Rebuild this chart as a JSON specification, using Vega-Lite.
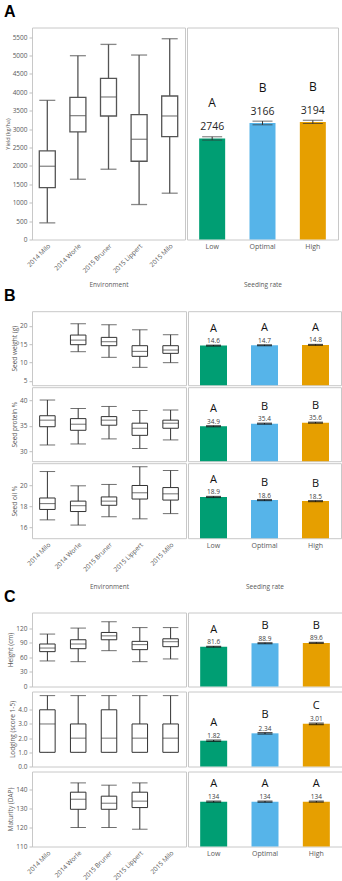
{
 "$schema": "https://vega.github.io/schema/vega-lite/v6.json",
 "padding": {"left": 3, "top": 3.5, "right": 2, "bottom": 2},
 "spacing": -2,
 "datasets": {
  "y_box": [
   {"env":"2014 Milo","min":452,"q1":1411,"median":1990,"q3":2406,"max":3781},
   {"env":"2014 Worle","min":1637,"q1":2922,"median":3365,"q3":3863,"max":4994},
   {"env":"2015 Bruner","min":1909,"q1":3356,"median":3872,"q3":4378,"max":5301},
   {"env":"2015 Lippert","min":950,"q1":2126,"median":2723,"q3":3392,"max":5012},
   {"env":"2015 Milo","min":1258,"q1":2795,"median":3356,"q3":3899,"max":5455}
  ],
  "y_bar": [
   {"rate":"Low","mean":2746,"lo":2701,"hi":2791,"letter":"A"},
   {"rate":"Optimal","mean":3166,"lo":3116,"hi":3216,"letter":"B"},
   {"rate":"High","mean":3194,"lo":3149,"hi":3239,"letter":"B"}
  ],
  "sw_box": [
   {"env":"2014 Worle","min":12.95,"q1":14.85,"median":16.1,"q3":17.47,"max":20.54},
   {"env":"2015 Bruner","min":11.42,"q1":14.58,"median":15.66,"q3":16.84,"max":20.27},
   {"env":"2015 Lippert","min":8.7,"q1":11.69,"median":13.04,"q3":14.58,"max":18.9},
   {"env":"2015 Milo","min":9.97,"q1":12.5,"median":13.4,"q3":14.58,"max":17.56}
  ],
  "sw_bar": [
   {"rate":"Low","mean":14.6,"lo":14.48,"hi":14.72,"letter":"A"},
   {"rate":"Optimal","mean":14.7,"lo":14.58,"hi":14.82,"letter":"A"},
   {"rate":"High","mean":14.8,"lo":14.68,"hi":14.92,"letter":"A"}
  ],
  "sp_box": [
   {"env":"2014 Milo","min":31.2,"q1":34.8,"median":36.1,"q3":36.97,"max":40.07},
   {"env":"2014 Worle","min":31.4,"q1":34.1,"median":35.3,"q3":36.4,"max":38.4},
   {"env":"2015 Bruner","min":32.4,"q1":35.1,"median":36.1,"q3":36.8,"max":38.8},
   {"env":"2015 Lippert","min":30.5,"q1":33.1,"median":34.5,"q3":35.5,"max":38.0},
   {"env":"2015 Milo","min":32.2,"q1":34.5,"median":35.5,"q3":36.1,"max":38.1}
  ],
  "sp_bar": [
   {"rate":"Low","mean":34.9,"lo":34.8,"hi":35.0,"letter":"A"},
   {"rate":"Optimal","mean":35.4,"lo":35.3,"hi":35.5,"letter":"B"},
   {"rate":"High","mean":35.6,"lo":35.5,"hi":35.7,"letter":"B"}
  ],
  "so_box": [
   {"env":"2014 Milo","min":16.7,"q1":17.7,"median":18.26,"q3":18.8,"max":21.34},
   {"env":"2014 Worle","min":16.2,"q1":17.5,"median":18.06,"q3":18.5,"max":19.97},
   {"env":"2015 Bruner","min":17.0,"q1":18.1,"median":18.5,"q3":18.9,"max":20.1},
   {"env":"2015 Lippert","min":16.8,"q1":18.7,"median":19.3,"q3":20.0,"max":21.8},
   {"env":"2015 Milo","min":17.3,"q1":18.6,"median":19.2,"q3":19.8,"max":21.44}
  ],
  "so_bar": [
   {"rate":"Low","mean":18.9,"lo":18.85,"hi":18.95,"letter":"A"},
   {"rate":"Optimal","mean":18.6,"lo":18.55,"hi":18.65,"letter":"B"},
   {"rate":"High","mean":18.5,"lo":18.45,"hi":18.55,"letter":"B"}
  ],
  "h_box": [
   {"env":"2014 Milo","min":52.5,"q1":71.6,"median":79,"q3":87.3,"max":107.7},
   {"env":"2014 Worle","min":51,"q1":77.7,"median":87.3,"q3":96,"max":120},
   {"env":"2015 Bruner","min":73.6,"q1":96,"median":104,"q3":111,"max":133},
   {"env":"2015 Lippert","min":51,"q1":75.7,"median":86,"q3":92.7,"max":121},
   {"env":"2015 Milo","min":56.6,"q1":81.8,"median":92,"q3":98,"max":121}
  ],
  "h_bar": [
   {"rate":"Low","mean":81.6,"lo":80.6,"hi":82.6,"letter":"A"},
   {"rate":"Optimal","mean":88.9,"lo":87.9,"hi":89.9,"letter":"B"},
   {"rate":"High","mean":89.6,"lo":88.6,"hi":90.6,"letter":"B"}
  ],
  "l_box": [
   {"env":"2014 Milo","min":1,"q1":1,"median":3,"q3":4,"max":5},
   {"env":"2014 Worle","min":1,"q1":1,"median":2,"q3":3,"max":5},
   {"env":"2015 Bruner","min":1,"q1":1,"median":2,"q3":4,"max":5},
   {"env":"2015 Lippert","min":1,"q1":1,"median":2,"q3":3,"max":5},
   {"env":"2015 Milo","min":1,"q1":1,"median":2,"q3":3,"max":5}
  ],
  "l_bar": [
   {"rate":"Low","mean":1.82,"lo":1.77,"hi":1.87,"letter":"A"},
   {"rate":"Optimal","mean":2.34,"lo":2.29,"hi":2.39,"letter":"B"},
   {"rate":"High","mean":3.01,"lo":2.96,"hi":3.06,"letter":"C"}
  ],
  "m_box": [
   {"env":"2014 Worle","min":120,"q1":129.6,"median":134.9,"q3":138.6,"max":143.5},
   {"env":"2015 Bruner","min":120,"q1":129.6,"median":132.8,"q3":136.5,"max":142.3},
   {"env":"2015 Lippert","min":119.1,"q1":130.5,"median":133.9,"q3":138.6,"max":143.5}
  ],
  "m_bar": [
   {"rate":"Low","mean":133.6,"lo":133.3,"hi":133.9,"letter":"A"},
   {"rate":"Optimal","mean":133.6,"lo":133.3,"hi":133.9,"letter":"A"},
   {"rate":"High","mean":133.6,"lo":133.3,"hi":133.9,"letter":"A"}
  ]
 },
 "vconcat": [
  {"spacing": -1.3, "vconcat": [
   {"spacing": 0, "hconcat": [
    {"title": "A", "width": 153, "height": 212, "data": {"name": "y_box"},
     "encoding": {"x": {"field": "env", "type": "nominal", "scale": {"domain": ["2014 Milo","2014 Worle","2015 Bruner","2015 Lippert","2015 Milo"], "paddingInner": 0, "paddingOuter": 0}, "axis": {"labelAngle": -45, "labelPadding": 3, "labelOverlap": false, "title": "Environment", "minExtent": 32, "maxExtent": 32, "titlePadding": 10}}},
     "layer": [
      {"mark": {"type": "rule", "color": "#555", "strokeWidth": 1.3}, "encoding": {"y": {"field": "min", "type": "quantitative", "scale": {"domain": [0, 5760], "nice": false, "zero": false, "clamp": true}, "axis": {"values": [0,500,1000,1500,2000,2500,3000,3500,4000,4500,5000,5500], "format": "d", "labelOverlap": false, "titleFontSize": 5.5}, "title": "Yield (kg/ha)"}, "y2": {"field": "max"}}},
      {"mark": {"type": "bar", "size": 16, "fill": "white", "stroke": "#555", "strokeWidth": 1.3}, "encoding": {"y": {"field": "q1", "type": "quantitative", "axis": {"values": [0,500,1000,1500,2000,2500,3000,3500,4000,4500,5000,5500], "format": "d", "labelOverlap": false, "titleFontSize": 5.5}, "title": "Yield (kg/ha)"}, "y2": {"field": "q3"}}},
      {"mark": {"type": "tick", "size": 16, "thickness": 1.3, "color": "#555"}, "encoding": {"y": {"field": "median", "type": "quantitative", "axis": {"values": [0,500,1000,1500,2000,2500,3000,3500,4000,4500,5000,5500], "format": "d", "labelOverlap": false, "titleFontSize": 5.5}, "title": "Yield (kg/ha)"}}},
      {"mark": {"type": "tick", "size": 16, "thickness": 1.3, "color": "#555"}, "encoding": {"y": {"field": "min", "type": "quantitative", "axis": {"values": [0,500,1000,1500,2000,2500,3000,3500,4000,4500,5000,5500], "format": "d", "labelOverlap": false, "titleFontSize": 5.5}, "title": "Yield (kg/ha)"}}},
      {"mark": {"type": "tick", "size": 16, "thickness": 1.3, "color": "#555"}, "encoding": {"y": {"field": "max", "type": "quantitative", "axis": {"values": [0,500,1000,1500,2000,2500,3000,3500,4000,4500,5000,5500], "format": "d", "labelOverlap": false, "titleFontSize": 5.5}, "title": "Yield (kg/ha)"}}}
     ]},
    {"width": 151, "height": 212, "data": {"name": "y_bar"},
     "encoding": {"x": {"field": "rate", "type": "nominal", "scale": {"domain": ["Low","Optimal","High"], "paddingInner": 0, "paddingOuter": 0}, "axis": {"labelAngle": 0, "labelFontSize": 7, "labelPadding": 3, "labelOverlap": false, "title": "Seeding rate", "minExtent": 32, "maxExtent": 32, "titlePadding": 10}}},
     "layer": [
      {"mark": {"type": "bar", "size": 26}, "encoding": {"y": {"field": "mean", "type": "quantitative", "scale": {"domain": [0, 5760], "nice": false, "zero": false, "clamp": true}, "axis": null}, "color": {"field": "rate", "type": "nominal", "scale": {"domain": ["Low","Optimal","High"], "range": ["#009E73","#56B4E9","#E69F00"]}, "legend": null}}},
      {"mark": {"type": "rule", "color": "#333", "strokeWidth": 1}, "encoding": {"y": {"field": "lo", "type": "quantitative", "axis": null}, "y2": {"field": "hi"}}},
      {"mark": {"type": "tick", "size": 20, "thickness": 1, "color": "#333"}, "encoding": {"y": {"field": "lo", "type": "quantitative", "axis": null}}},
      {"mark": {"type": "tick", "size": 20, "thickness": 1, "color": "#333"}, "encoding": {"y": {"field": "hi", "type": "quantitative", "axis": null}}},
      {"mark": {"type": "text", "dy": -11, "fontSize": 10.5, "color": "#262626", "baseline": "middle"}, "encoding": {"y": {"field": "mean", "type": "quantitative", "axis": null}, "text": {"field": "mean", "type": "quantitative", "format": ".0f"}}},
      {"mark": {"type": "text", "dy": -35, "fontSize": 12, "color": "#111", "baseline": "middle"}, "encoding": {"y": {"field": "mean", "type": "quantitative", "axis": null}, "text": {"field": "letter"}}}
     ]}
   ]},
   {"spacing": 0, "vconcat": [
    {"spacing": 0, "hconcat": [
     {"title": "B", "width": 154, "height": 74, "data": {"name": "sw_box"},
      "encoding": {"x": {"field": "env", "type": "nominal", "scale": {"domain": ["2014 Milo","2014 Worle","2015 Bruner","2015 Lippert","2015 Milo"], "paddingInner": 0, "paddingOuter": 0}, "axis": null}},
      "layer": [
       {"mark": {"type": "rule", "color": "#333", "strokeWidth": 1}, "encoding": {"y": {"field": "min", "type": "quantitative", "scale": {"domain": [3.85, 23.95], "nice": false, "zero": false, "clamp": true}, "axis": {"values": [5,10,15,20], "labelOverlap": false}, "title": "Seed weight (g)"}, "y2": {"field": "max"}}},
       {"mark": {"type": "bar", "size": 15.5, "fill": "white", "stroke": "#333", "strokeWidth": 1}, "encoding": {"y": {"field": "q1", "type": "quantitative", "axis": {"values": [5,10,15,20], "labelOverlap": false}, "title": "Seed weight (g)"}, "y2": {"field": "q3"}}},
       {"mark": {"type": "tick", "size": 15.5, "thickness": 1, "color": "#333"}, "encoding": {"y": {"field": "median", "type": "quantitative", "axis": {"values": [5,10,15,20], "labelOverlap": false}, "title": "Seed weight (g)"}}},
       {"mark": {"type": "tick", "size": 15.5, "thickness": 1, "color": "#333"}, "encoding": {"y": {"field": "min", "type": "quantitative", "axis": {"values": [5,10,15,20], "labelOverlap": false}, "title": "Seed weight (g)"}}},
       {"mark": {"type": "tick", "size": 15.5, "thickness": 1, "color": "#333"}, "encoding": {"y": {"field": "max", "type": "quantitative", "axis": {"values": [5,10,15,20], "labelOverlap": false}, "title": "Seed weight (g)"}}}
      ]},
     {"width": 153, "height": 74, "data": {"name": "sw_bar"},
      "encoding": {"x": {"field": "rate", "type": "nominal", "scale": {"domain": ["Low","Optimal","High"], "paddingInner": 0, "paddingOuter": 0}, "axis": null}},
      "layer": [
       {"mark": {"type": "bar", "size": 27}, "encoding": {"y": {"field": "mean", "type": "quantitative", "scale": {"domain": [3.85, 23.95], "nice": false, "zero": false, "clamp": true}, "axis": null}, "color": {"field": "rate", "type": "nominal", "scale": {"domain": ["Low","Optimal","High"], "range": ["#009E73","#56B4E9","#E69F00"]}, "legend": null}}},
       {"mark": {"type": "rule", "color": "#111", "strokeWidth": 1}, "encoding": {"y": {"field": "lo", "type": "quantitative", "axis": null}, "y2": {"field": "hi"}}},
       {"mark": {"type": "tick", "size": 15, "thickness": 1.2, "color": "#111"}, "encoding": {"y": {"field": "lo", "type": "quantitative", "axis": null}}},
       {"mark": {"type": "tick", "size": 15, "thickness": 1.2, "color": "#111"}, "encoding": {"y": {"field": "hi", "type": "quantitative", "axis": null}}},
       {"mark": {"type": "text", "dy": -4.5, "fontSize": 6.5, "color": "#404040", "baseline": "middle"}, "encoding": {"y": {"field": "mean", "type": "quantitative", "axis": null}, "text": {"field": "mean", "type": "quantitative", "format": ".1f"}}},
       {"mark": {"type": "text", "dy": -17, "fontSize": 11, "color": "#111", "baseline": "middle"}, "encoding": {"y": {"field": "mean", "type": "quantitative", "axis": null}, "text": {"field": "letter"}}}
      ]}
    ]},
    {"spacing": 0, "hconcat": [
     {"width": 154, "height": 74, "data": {"name": "sp_box"},
      "encoding": {"x": {"field": "env", "type": "nominal", "scale": {"domain": ["2014 Milo","2014 Worle","2015 Bruner","2015 Lippert","2015 Milo"], "paddingInner": 0, "paddingOuter": 0}, "axis": null}},
      "layer": [
       {"mark": {"type": "rule", "color": "#333", "strokeWidth": 1}, "encoding": {"y": {"field": "min", "type": "quantitative", "scale": {"domain": [28, 42.6], "nice": false, "zero": false, "clamp": true}, "axis": {"values": [30,35,40], "labelOverlap": false}, "title": "Seed protein %"}, "y2": {"field": "max"}}},
       {"mark": {"type": "bar", "size": 15.5, "fill": "white", "stroke": "#333", "strokeWidth": 1}, "encoding": {"y": {"field": "q1", "type": "quantitative", "axis": {"values": [30,35,40], "labelOverlap": false}, "title": "Seed protein %"}, "y2": {"field": "q3"}}},
       {"mark": {"type": "tick", "size": 15.5, "thickness": 1, "color": "#333"}, "encoding": {"y": {"field": "median", "type": "quantitative", "axis": {"values": [30,35,40], "labelOverlap": false}, "title": "Seed protein %"}}},
       {"mark": {"type": "tick", "size": 15.5, "thickness": 1, "color": "#333"}, "encoding": {"y": {"field": "min", "type": "quantitative", "axis": {"values": [30,35,40], "labelOverlap": false}, "title": "Seed protein %"}}},
       {"mark": {"type": "tick", "size": 15.5, "thickness": 1, "color": "#333"}, "encoding": {"y": {"field": "max", "type": "quantitative", "axis": {"values": [30,35,40], "labelOverlap": false}, "title": "Seed protein %"}}}
      ]},
     {"width": 153, "height": 74, "data": {"name": "sp_bar"},
      "encoding": {"x": {"field": "rate", "type": "nominal", "scale": {"domain": ["Low","Optimal","High"], "paddingInner": 0, "paddingOuter": 0}, "axis": null}},
      "layer": [
       {"mark": {"type": "bar", "size": 27}, "encoding": {"y": {"field": "mean", "type": "quantitative", "scale": {"domain": [28, 42.6], "nice": false, "zero": false, "clamp": true}, "axis": null}, "color": {"field": "rate", "type": "nominal", "scale": {"domain": ["Low","Optimal","High"], "range": ["#009E73","#56B4E9","#E69F00"]}, "legend": null}}},
       {"mark": {"type": "rule", "color": "#111", "strokeWidth": 1}, "encoding": {"y": {"field": "lo", "type": "quantitative", "axis": null}, "y2": {"field": "hi"}}},
       {"mark": {"type": "tick", "size": 15, "thickness": 1.2, "color": "#111"}, "encoding": {"y": {"field": "lo", "type": "quantitative", "axis": null}}},
       {"mark": {"type": "tick", "size": 15, "thickness": 1.2, "color": "#111"}, "encoding": {"y": {"field": "hi", "type": "quantitative", "axis": null}}},
       {"mark": {"type": "text", "dy": -4.5, "fontSize": 6.5, "color": "#404040", "baseline": "middle"}, "encoding": {"y": {"field": "mean", "type": "quantitative", "axis": null}, "text": {"field": "mean", "type": "quantitative", "format": ".1f"}}},
       {"mark": {"type": "text", "dy": -17, "fontSize": 11, "color": "#111", "baseline": "middle"}, "encoding": {"y": {"field": "mean", "type": "quantitative", "axis": null}, "text": {"field": "letter"}}}
      ]}
    ]},
    {"spacing": 0, "hconcat": [
     {"width": 154, "height": 75, "data": {"name": "so_box"},
      "encoding": {"x": {"field": "env", "type": "nominal", "scale": {"domain": ["2014 Milo","2014 Worle","2015 Bruner","2015 Lippert","2015 Milo"], "paddingInner": 0, "paddingOuter": 0}, "axis": {"labelAngle": -45, "labelPadding": 3, "labelOverlap": false, "title": "Environment", "minExtent": 32, "maxExtent": 32, "titlePadding": 13}}},
      "layer": [
       {"mark": {"type": "rule", "color": "#333", "strokeWidth": 1}, "encoding": {"y": {"field": "min", "type": "quantitative", "scale": {"domain": [14.94, 22.14], "nice": false, "zero": false, "clamp": true}, "axis": {"values": [16,18,20], "labelOverlap": false}, "title": "Seed oil %"}, "y2": {"field": "max"}}},
       {"mark": {"type": "bar", "size": 15.5, "fill": "white", "stroke": "#333", "strokeWidth": 1}, "encoding": {"y": {"field": "q1", "type": "quantitative", "axis": {"values": [16,18,20], "labelOverlap": false}, "title": "Seed oil %"}, "y2": {"field": "q3"}}},
       {"mark": {"type": "tick", "size": 15.5, "thickness": 1, "color": "#333"}, "encoding": {"y": {"field": "median", "type": "quantitative", "axis": {"values": [16,18,20], "labelOverlap": false}, "title": "Seed oil %"}}},
       {"mark": {"type": "tick", "size": 15.5, "thickness": 1, "color": "#333"}, "encoding": {"y": {"field": "min", "type": "quantitative", "axis": {"values": [16,18,20], "labelOverlap": false}, "title": "Seed oil %"}}},
       {"mark": {"type": "tick", "size": 15.5, "thickness": 1, "color": "#333"}, "encoding": {"y": {"field": "max", "type": "quantitative", "axis": {"values": [16,18,20], "labelOverlap": false}, "title": "Seed oil %"}}}
      ]},
     {"width": 153, "height": 75, "data": {"name": "so_bar"},
      "encoding": {"x": {"field": "rate", "type": "nominal", "scale": {"domain": ["Low","Optimal","High"], "paddingInner": 0, "paddingOuter": 0}, "axis": {"labelAngle": 0, "labelFontSize": 7, "labelPadding": 3, "labelOverlap": false, "title": "Seeding rate", "minExtent": 32, "maxExtent": 32, "titlePadding": 13}}},
      "layer": [
       {"mark": {"type": "bar", "size": 27}, "encoding": {"y": {"field": "mean", "type": "quantitative", "scale": {"domain": [14.94, 22.14], "nice": false, "zero": false, "clamp": true}, "axis": null}, "color": {"field": "rate", "type": "nominal", "scale": {"domain": ["Low","Optimal","High"], "range": ["#009E73","#56B4E9","#E69F00"]}, "legend": null}}},
       {"mark": {"type": "rule", "color": "#111", "strokeWidth": 1}, "encoding": {"y": {"field": "lo", "type": "quantitative", "axis": null}, "y2": {"field": "hi"}}},
       {"mark": {"type": "tick", "size": 15, "thickness": 1.2, "color": "#111"}, "encoding": {"y": {"field": "lo", "type": "quantitative", "axis": null}}},
       {"mark": {"type": "tick", "size": 15, "thickness": 1.2, "color": "#111"}, "encoding": {"y": {"field": "hi", "type": "quantitative", "axis": null}}},
       {"mark": {"type": "text", "dy": -4.5, "fontSize": 6.5, "color": "#404040", "baseline": "middle"}, "encoding": {"y": {"field": "mean", "type": "quantitative", "axis": null}, "text": {"field": "mean", "type": "quantitative", "format": ".1f"}}},
       {"mark": {"type": "text", "dy": -17, "fontSize": 11, "color": "#111", "baseline": "middle"}, "encoding": {"y": {"field": "mean", "type": "quantitative", "axis": null}, "text": {"field": "letter"}}}
      ]}
    ]}
   ]}
  ]},
  {"spacing": 0, "vconcat": [
   {"spacing": 0, "hconcat": [
    {"title": "C", "width": 154, "height": 74, "data": {"name": "h_box"},
     "encoding": {"x": {"field": "env", "type": "nominal", "scale": {"domain": ["2014 Milo","2014 Worle","2015 Bruner","2015 Lippert","2015 Milo"], "paddingInner": 0, "paddingOuter": 0}, "axis": null}},
     "layer": [
      {"mark": {"type": "rule", "color": "#333", "strokeWidth": 1}, "encoding": {"y": {"field": "min", "type": "quantitative", "scale": {"domain": [0, 152], "nice": false, "zero": false, "clamp": true}, "axis": {"values": [0,30,60,90,120], "labelOverlap": false}, "title": "Height (cm)"}, "y2": {"field": "max"}}},
      {"mark": {"type": "bar", "size": 15.5, "fill": "white", "stroke": "#333", "strokeWidth": 1}, "encoding": {"y": {"field": "q1", "type": "quantitative", "axis": {"values": [0,30,60,90,120], "labelOverlap": false}, "title": "Height (cm)"}, "y2": {"field": "q3"}}},
      {"mark": {"type": "tick", "size": 15.5, "thickness": 1, "color": "#333"}, "encoding": {"y": {"field": "median", "type": "quantitative", "axis": {"values": [0,30,60,90,120], "labelOverlap": false}, "title": "Height (cm)"}}},
      {"mark": {"type": "tick", "size": 15.5, "thickness": 1, "color": "#333"}, "encoding": {"y": {"field": "min", "type": "quantitative", "axis": {"values": [0,30,60,90,120], "labelOverlap": false}, "title": "Height (cm)"}}},
      {"mark": {"type": "tick", "size": 15.5, "thickness": 1, "color": "#333"}, "encoding": {"y": {"field": "max", "type": "quantitative", "axis": {"values": [0,30,60,90,120], "labelOverlap": false}, "title": "Height (cm)"}}}
     ]},
    {"width": 154, "height": 74, "data": {"name": "h_bar"},
     "encoding": {"x": {"field": "rate", "type": "nominal", "scale": {"domain": ["Low","Optimal","High"], "paddingInner": 0, "paddingOuter": 0}, "axis": null}},
     "layer": [
      {"mark": {"type": "bar", "size": 27}, "encoding": {"y": {"field": "mean", "type": "quantitative", "scale": {"domain": [0, 152], "nice": false, "zero": false, "clamp": true}, "axis": null}, "color": {"field": "rate", "type": "nominal", "scale": {"domain": ["Low","Optimal","High"], "range": ["#009E73","#56B4E9","#E69F00"]}, "legend": null}}},
      {"mark": {"type": "rule", "color": "#111", "strokeWidth": 1}, "encoding": {"y": {"field": "lo", "type": "quantitative", "axis": null}, "y2": {"field": "hi"}}},
      {"mark": {"type": "tick", "size": 15, "thickness": 1.2, "color": "#111"}, "encoding": {"y": {"field": "lo", "type": "quantitative", "axis": null}}},
      {"mark": {"type": "tick", "size": 15, "thickness": 1.2, "color": "#111"}, "encoding": {"y": {"field": "hi", "type": "quantitative", "axis": null}}},
      {"mark": {"type": "text", "dy": -4.5, "fontSize": 6.5, "color": "#404040", "baseline": "middle"}, "encoding": {"y": {"field": "mean", "type": "quantitative", "axis": null}, "text": {"field": "mean", "type": "quantitative", "format": ".1f"}}},
      {"mark": {"type": "text", "dy": -17, "fontSize": 11, "color": "#111", "baseline": "middle"}, "encoding": {"y": {"field": "mean", "type": "quantitative", "axis": null}, "text": {"field": "letter"}}}
     ]}
   ]},
   {"spacing": 0, "hconcat": [
    {"width": 154, "height": 75, "data": {"name": "l_box"},
     "encoding": {"x": {"field": "env", "type": "nominal", "scale": {"domain": ["2014 Milo","2014 Worle","2015 Bruner","2015 Lippert","2015 Milo"], "paddingInner": 0, "paddingOuter": 0}, "axis": null}},
     "layer": [
      {"mark": {"type": "rule", "color": "#333", "strokeWidth": 1}, "encoding": {"y": {"field": "min", "type": "quantitative", "scale": {"domain": [0, 5.29], "nice": false, "zero": false, "clamp": true}, "axis": {"values": [0,1,2,3,4], "format": ".1f", "labelOverlap": false}, "title": "Lodging (score 1-5)"}, "y2": {"field": "max"}}},
      {"mark": {"type": "bar", "size": 15.5, "fill": "white", "stroke": "#333", "strokeWidth": 1}, "encoding": {"y": {"field": "q1", "type": "quantitative", "axis": {"values": [0,1,2,3,4], "format": ".1f", "labelOverlap": false}, "title": "Lodging (score 1-5)"}, "y2": {"field": "q3"}}},
      {"mark": {"type": "tick", "size": 15.5, "thickness": 1, "color": "#333"}, "encoding": {"y": {"field": "median", "type": "quantitative", "axis": {"values": [0,1,2,3,4], "format": ".1f", "labelOverlap": false}, "title": "Lodging (score 1-5)"}}},
      {"mark": {"type": "tick", "size": 15.5, "thickness": 1, "color": "#333"}, "encoding": {"y": {"field": "max", "type": "quantitative", "axis": {"values": [0,1,2,3,4], "format": ".1f", "labelOverlap": false}, "title": "Lodging (score 1-5)"}}}
     ]},
    {"width": 154, "height": 75, "data": {"name": "l_bar"},
     "encoding": {"x": {"field": "rate", "type": "nominal", "scale": {"domain": ["Low","Optimal","High"], "paddingInner": 0, "paddingOuter": 0}, "axis": null}},
     "layer": [
      {"mark": {"type": "bar", "size": 27}, "encoding": {"y": {"field": "mean", "type": "quantitative", "scale": {"domain": [0, 5.29], "nice": false, "zero": false, "clamp": true}, "axis": null}, "color": {"field": "rate", "type": "nominal", "scale": {"domain": ["Low","Optimal","High"], "range": ["#009E73","#56B4E9","#E69F00"]}, "legend": null}}},
      {"mark": {"type": "rule", "color": "#111", "strokeWidth": 1}, "encoding": {"y": {"field": "lo", "type": "quantitative", "axis": null}, "y2": {"field": "hi"}}},
      {"mark": {"type": "tick", "size": 15, "thickness": 1.2, "color": "#111"}, "encoding": {"y": {"field": "lo", "type": "quantitative", "axis": null}}},
      {"mark": {"type": "tick", "size": 15, "thickness": 1.2, "color": "#111"}, "encoding": {"y": {"field": "hi", "type": "quantitative", "axis": null}}},
      {"mark": {"type": "text", "dy": -4.5, "fontSize": 6.5, "color": "#404040", "baseline": "middle"}, "encoding": {"y": {"field": "mean", "type": "quantitative", "axis": null}, "text": {"field": "mean", "type": "quantitative", "format": ".2f"}}},
      {"mark": {"type": "text", "dy": -18, "fontSize": 11, "color": "#111", "baseline": "middle"}, "encoding": {"y": {"field": "mean", "type": "quantitative", "axis": null}, "text": {"field": "letter"}}}
     ]}
   ]},
   {"spacing": 0, "hconcat": [
    {"width": 154, "height": 75, "data": {"name": "m_box"},
     "encoding": {"x": {"field": "env", "type": "nominal", "scale": {"domain": ["2014 Milo","2014 Worle","2015 Bruner","2015 Lippert","2015 Milo"], "paddingInner": 0, "paddingOuter": 0}, "axis": {"labelAngle": -45, "labelPadding": 3, "labelOverlap": false, "title": null}}},
     "layer": [
      {"mark": {"type": "rule", "color": "#333", "strokeWidth": 1}, "encoding": {"y": {"field": "min", "type": "quantitative", "scale": {"domain": [110, 149.5], "nice": false, "zero": false, "clamp": true}, "axis": {"values": [110,120,130,140], "labelOverlap": false}, "title": "Maturity (DAP)"}, "y2": {"field": "max"}}},
      {"mark": {"type": "bar", "size": 15.5, "fill": "white", "stroke": "#333", "strokeWidth": 1}, "encoding": {"y": {"field": "q1", "type": "quantitative", "axis": {"values": [110,120,130,140], "labelOverlap": false}, "title": "Maturity (DAP)"}, "y2": {"field": "q3"}}},
      {"mark": {"type": "tick", "size": 15.5, "thickness": 1, "color": "#333"}, "encoding": {"y": {"field": "median", "type": "quantitative", "axis": {"values": [110,120,130,140], "labelOverlap": false}, "title": "Maturity (DAP)"}}},
      {"mark": {"type": "tick", "size": 15.5, "thickness": 1, "color": "#333"}, "encoding": {"y": {"field": "min", "type": "quantitative", "axis": {"values": [110,120,130,140], "labelOverlap": false}, "title": "Maturity (DAP)"}}},
      {"mark": {"type": "tick", "size": 15.5, "thickness": 1, "color": "#333"}, "encoding": {"y": {"field": "max", "type": "quantitative", "axis": {"values": [110,120,130,140], "labelOverlap": false}, "title": "Maturity (DAP)"}}}
     ]},
    {"width": 154, "height": 75, "data": {"name": "m_bar"},
     "encoding": {"x": {"field": "rate", "type": "nominal", "scale": {"domain": ["Low","Optimal","High"], "paddingInner": 0, "paddingOuter": 0}, "axis": {"labelAngle": 0, "labelFontSize": 7, "labelPadding": 3, "labelOverlap": false, "title": null}}},
     "layer": [
      {"mark": {"type": "bar", "size": 27}, "encoding": {"y": {"field": "mean", "type": "quantitative", "scale": {"domain": [110, 149.5], "nice": false, "zero": false, "clamp": true}, "axis": null}, "color": {"field": "rate", "type": "nominal", "scale": {"domain": ["Low","Optimal","High"], "range": ["#009E73","#56B4E9","#E69F00"]}, "legend": null}}},
      {"mark": {"type": "rule", "color": "#111", "strokeWidth": 1}, "encoding": {"y": {"field": "lo", "type": "quantitative", "axis": null}, "y2": {"field": "hi"}}},
      {"mark": {"type": "tick", "size": 15, "thickness": 1.2, "color": "#111"}, "encoding": {"y": {"field": "lo", "type": "quantitative", "axis": null}}},
      {"mark": {"type": "tick", "size": 15, "thickness": 1.2, "color": "#111"}, "encoding": {"y": {"field": "hi", "type": "quantitative", "axis": null}}},
      {"mark": {"type": "text", "dy": -4.5, "fontSize": 6.5, "color": "#404040", "baseline": "middle"}, "encoding": {"y": {"field": "mean", "type": "quantitative", "axis": null}, "text": {"field": "mean", "type": "quantitative", "format": ".0f"}}},
      {"mark": {"type": "text", "dy": -18, "fontSize": 11, "color": "#111", "baseline": "middle"}, "encoding": {"y": {"field": "mean", "type": "quantitative", "axis": null}, "text": {"field": "letter"}}}
     ]}
   ]}
  ]}
 ],
 "config": {
  "font": "Open Sans",
  "view": {"stroke": "#c8c8c8", "strokeWidth": 1},
  "axis": {"domain": false, "grid": false, "labelOverlap": false, "labelFont": "Open Sans", "labelFontSize": 6.5, "labelColor": "#595959", "titleFont": "Open Sans", "titleFontSize": 6.5, "titleFontWeight": "normal", "titleColor": "#595959", "tickColor": "#bfbfbf", "tickSize": 3, "labelPadding": 2, "titlePadding": 2},
  "axisX": {"ticks": false},
  "title": {"font": "Liberation Sans", "fontSize": 16, "fontWeight": "bold", "anchor": "start", "frame": "group", "dx": -28, "offset": 7.5, "baseline": "alphabetic", "color": "#000"},
  "text": {"font": "Open Sans"}
 }
}
